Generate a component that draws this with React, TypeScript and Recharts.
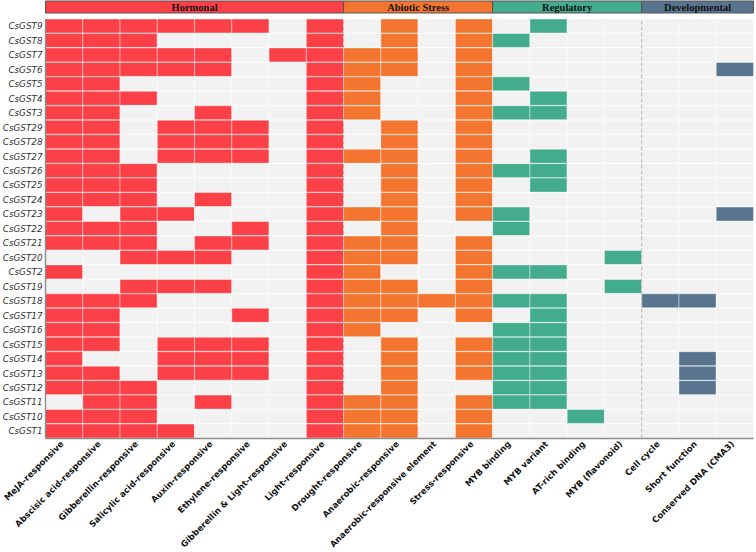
import { BarChart, Bar, Cell, XAxis, YAxis, ReferenceLine, LabelList } from "recharts";

const GENES = [
  "CsGST9", "CsGST8", "CsGST7", "CsGST6", "CsGST5", "CsGST4", "CsGST3", "CsGST29",
  "CsGST28", "CsGST27", "CsGST26", "CsGST25", "CsGST24", "CsGST23", "CsGST22",
  "CsGST21", "CsGST20", "CsGST2", "CsGST19", "CsGST18", "CsGST17", "CsGST16",
  "CsGST15", "CsGST14", "CsGST13", "CsGST12", "CsGST11", "CsGST10", "CsGST1",
];

const HORMONAL_COLS = [
  "MeJA-responsive", "Abscisic acid-responsive", "Gibberellin-responsive",
  "Salicylic acid-responsive", "Auxin-responsive", "Ethylene-responsive",
  "Gibberellin & Light-responsive", "Light-responsive",
];
const ABIOTIC_COLS = [
  "Drought-responsive", "Anaerobic-responsive", "Anaerobic-responsive element", "Stress-responsive",
];
const REGULATORY_COLS = ["MYB binding", "MYB variant", "AT-rich binding", "MYB (flavonoid)"];
const DEVELOPMENTAL_COLS = ["Cell cycle", "Short function", "Conserved DNA (CMA3)"];

// presence (1) / absence (0) of each element, rows in GENES order
const hormonal = [
  [1, 1, 1, 1, 1, 1, 0, 1],
  [1, 1, 1, 0, 0, 0, 0, 1],
  [1, 1, 1, 1, 1, 0, 1, 1],
  [1, 1, 1, 1, 1, 0, 0, 1],
  [1, 1, 0, 0, 0, 0, 0, 1],
  [1, 1, 1, 0, 0, 0, 0, 1],
  [1, 1, 0, 0, 1, 0, 0, 1],
  [1, 1, 0, 1, 1, 1, 0, 1],
  [1, 1, 0, 1, 1, 1, 0, 1],
  [1, 1, 0, 1, 1, 1, 0, 1],
  [1, 1, 1, 0, 0, 0, 0, 1],
  [1, 1, 1, 0, 0, 0, 0, 1],
  [1, 1, 1, 0, 1, 0, 0, 1],
  [1, 0, 1, 1, 0, 0, 0, 1],
  [1, 1, 1, 0, 0, 1, 0, 1],
  [1, 1, 1, 0, 1, 1, 0, 1],
  [0, 0, 1, 1, 1, 0, 0, 1],
  [1, 0, 0, 0, 0, 0, 0, 1],
  [0, 0, 1, 1, 1, 0, 0, 1],
  [1, 1, 1, 0, 0, 0, 0, 1],
  [1, 1, 0, 0, 0, 1, 0, 1],
  [1, 1, 0, 0, 0, 0, 0, 1],
  [1, 1, 0, 1, 1, 1, 0, 1],
  [1, 0, 0, 1, 1, 1, 0, 1],
  [1, 1, 0, 1, 1, 1, 0, 1],
  [1, 1, 1, 0, 0, 0, 0, 1],
  [0, 1, 1, 0, 1, 0, 0, 1],
  [1, 1, 1, 0, 0, 0, 0, 1],
  [1, 1, 1, 1, 0, 0, 0, 1],
];

const abiotic = [
  [0, 1, 0, 1],
  [0, 1, 0, 1],
  [1, 1, 0, 1],
  [1, 1, 0, 1],
  [1, 0, 0, 1],
  [1, 0, 0, 1],
  [1, 0, 0, 1],
  [0, 1, 0, 1],
  [0, 1, 0, 1],
  [1, 1, 0, 1],
  [0, 1, 0, 1],
  [0, 1, 0, 1],
  [0, 1, 0, 1],
  [1, 1, 0, 1],
  [0, 1, 0, 0],
  [1, 1, 0, 1],
  [1, 1, 0, 1],
  [1, 0, 0, 1],
  [1, 1, 0, 1],
  [1, 1, 1, 1],
  [1, 1, 0, 1],
  [1, 0, 0, 0],
  [0, 1, 0, 1],
  [0, 1, 0, 1],
  [0, 1, 0, 1],
  [0, 1, 0, 0],
  [1, 1, 0, 1],
  [1, 1, 0, 1],
  [1, 1, 0, 1],
];

const regulatory = [
  [0, 1, 0, 0],
  [1, 0, 0, 0],
  [0, 0, 0, 0],
  [0, 0, 0, 0],
  [1, 0, 0, 0],
  [0, 1, 0, 0],
  [1, 1, 0, 0],
  [0, 0, 0, 0],
  [0, 0, 0, 0],
  [0, 1, 0, 0],
  [1, 1, 0, 0],
  [0, 1, 0, 0],
  [0, 0, 0, 0],
  [1, 0, 0, 0],
  [1, 0, 0, 0],
  [0, 0, 0, 0],
  [0, 0, 0, 1],
  [1, 1, 0, 0],
  [0, 0, 0, 1],
  [1, 1, 0, 0],
  [0, 1, 0, 0],
  [1, 1, 0, 0],
  [1, 1, 0, 0],
  [1, 1, 0, 0],
  [1, 1, 0, 0],
  [1, 1, 0, 0],
  [1, 1, 0, 0],
  [0, 0, 1, 0],
  [0, 0, 0, 0],
];

const developmental = [
  [0, 0, 0],
  [0, 0, 0],
  [0, 0, 0],
  [0, 0, 1],
  [0, 0, 0],
  [0, 0, 0],
  [0, 0, 0],
  [0, 0, 0],
  [0, 0, 0],
  [0, 0, 0],
  [0, 0, 0],
  [0, 0, 0],
  [0, 0, 0],
  [0, 0, 1],
  [0, 0, 0],
  [0, 0, 0],
  [0, 0, 0],
  [0, 0, 0],
  [0, 0, 0],
  [1, 1, 0],
  [0, 0, 0],
  [0, 0, 0],
  [0, 0, 0],
  [0, 1, 0],
  [0, 1, 0],
  [0, 1, 0],
  [0, 0, 0],
  [0, 0, 0],
  [0, 0, 0],
];

const GROUPS = [
  { name: "Hormonal", cols: HORMONAL_COLS, rows: hormonal, color: "#FC4047" },
  { name: "Abiotic Stress", cols: ABIOTIC_COLS, rows: abiotic, color: "#F3752F" },
  { name: "Regulatory", cols: REGULATORY_COLS, rows: regulatory, color: "#43AC8C" },
  { name: "Developmental", cols: DEVELOPMENTAL_COLS, rows: developmental, color: "#58748F" },
];

const EMPTY = "#F2F2F2";
const GRID = "#8C8C8C";

const COLUMNS = GROUPS.flatMap((g) => g.cols);
const N = COLUMNS.length;

// each gene is one stacked row; every column is a unit-wide segment
const cellData = GENES.map((gene) => {
  const row: Record<string, string | number> = { gene };
  COLUMNS.forEach((_, c) => {
    row[`c${c}`] = 1;
  });
  return row;
});

const cellFill = GENES.map((_, r) =>
  GROUPS.flatMap((g) => g.rows[r].map((v) => (v ? g.color : EMPTY)))
);

// group boundaries for the dashed separators
const hormonalEnd = HORMONAL_COLS.length;
const regulatoryEnd = hormonalEnd + ABIOTIC_COLS.length + REGULATORY_COLS.length;

const headerData = [
  GROUPS.reduce<Record<string, string | number>>(
    (acc, g) => ({ ...acc, [g.name]: g.cols.length }),
    { row: "groups" }
  ),
];

function ColumnTick({ x, y, payload }: any) {
  const label = COLUMNS[Math.floor(payload.value)];
  const ax = x;
  const ay = y + 4;
  return (
    <text
      x={ax}
      y={ay}
      transform={`rotate(-45, ${ax}, ${ay})`}
      textAnchor="end"
      fontSize={8.5}
      fontWeight="bold"
      fontFamily="DejaVu Sans"
      fill="#111"
    >
      {label}
    </text>
  );
}

export default function App() {
  return (
    <div style={{ position: "absolute", left: 0, top: 0, width: 756, height: 552, background: "#fff" }}>
      <div style={{ position: "absolute", left: 0, top: 0 }}>
        <BarChart
          width={756}
          height={14}
          data={headerData}
          layout="vertical"
          barCategoryGap={0}
          margin={{ top: 1, right: 2.5, bottom: 1.5, left: 45.5 }}
        >
          <XAxis type="number" domain={[0, N]} hide />
          <YAxis type="category" dataKey="row" hide />
          {GROUPS.map((g) => (
            <Bar
              key={g.name}
              dataKey={g.name}
              stackId="groups"
              fill={g.color}
              stroke="#555"
              strokeWidth={1}
              isAnimationActive={false}
            >
              <LabelList
                dataKey={g.name}
                position="center"
                formatter={() => g.name}
                fill="#141414"
                fontSize={10.5}
                fontWeight="bold"
                fontFamily="Liberation Serif"
              />
            </Bar>
          ))}
        </BarChart>
      </div>
      <div style={{ position: "absolute", left: 0, top: 0 }}>
        <BarChart
          width={756}
          height={552}
          data={cellData}
          layout="vertical"
          barCategoryGap={0}
          barGap={0}
          margin={{ top: 19, right: 2.5, bottom: 0, left: 0 }}
        >
          <XAxis
            type="number"
            domain={[0, N]}
            ticks={COLUMNS.map((_, i) => i + 0.5)}
            interval={0}
            height={113.5}
            tick={<ColumnTick />}
            tickLine={false}
            tickSize={0}
            axisLine={{ stroke: GRID, strokeWidth: 1.4 }}
          />
          <XAxis
            xAxisId="top"
            orientation="top"
            type="number"
            domain={[0, N]}
            height={0}
            tick={false}
            tickLine={false}
            axisLine={{ stroke: GRID, strokeWidth: 1.4 }}
          />
          <YAxis
            type="category"
            dataKey="gene"
            width={45.5}
            interval={0}
            tickLine={false}
            tickSize={0}
            tickMargin={3}
            tick={{ fontSize: 8.8, fontStyle: "italic", fill: "#333", fontFamily: "DejaVu Sans" }}
            axisLine={{ stroke: GRID, strokeWidth: 1.4 }}
          />
          <YAxis
            yAxisId="right"
            orientation="right"
            type="category"
            dataKey="gene"
            width={0}
            tick={false}
            tickLine={false}
            axisLine={{ stroke: GRID, strokeWidth: 1.4 }}
          />
          {COLUMNS.map((col, c) => (
            <Bar
              key={col}
              dataKey={`c${c}`}
              stackId="cells"
              stroke="rgba(255,255,255,0.4)"
              strokeWidth={1}
              isAnimationActive={false}
            >
              {GENES.map((gene, r) => (
                <Cell key={gene} fill={cellFill[r][c]} />
              ))}
            </Bar>
          ))}
          <ReferenceLine x={hormonalEnd} stroke="#B4B4B4" strokeDasharray="4 2" strokeWidth={1} />
          <ReferenceLine x={regulatoryEnd} stroke="#B4B4B4" strokeDasharray="4 2" strokeWidth={1} />
        </BarChart>
      </div>
    </div>
  );
}
